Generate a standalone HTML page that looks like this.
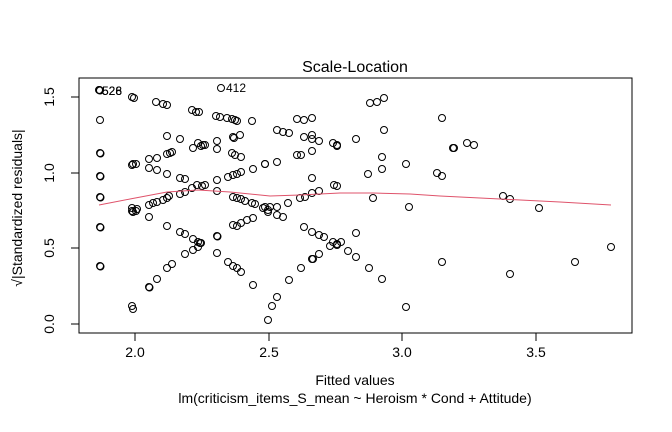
<!DOCTYPE html>
<html><head><meta charset="utf-8"><style>body{margin:0;background:#fff}svg{display:block}</style></head>
<body>
<svg width="672" height="432" viewBox="0 0 672 432" xmlns="http://www.w3.org/2000/svg" font-family="Liberation Sans, Arial, sans-serif">
<rect width="672" height="432" fill="#fff"/>
<rect x="79" y="78" width="553" height="255" fill="none" stroke="#000" stroke-width="1"/>
<g stroke="#000" stroke-width="1">
<line x1="135" y1="333" x2="135" y2="341"/><line x1="269" y1="333" x2="269" y2="341"/><line x1="402" y1="333" x2="402" y2="341"/><line x1="536" y1="333" x2="536" y2="341"/>
<line x1="71" y1="324" x2="79" y2="324"/><line x1="71" y1="248" x2="79" y2="248"/><line x1="71" y1="173" x2="79" y2="173"/><line x1="71" y1="97" x2="79" y2="97"/>
</g>
<g font-size="14" text-anchor="middle" fill="#000">
<text x="135" y="357">2.0</text><text x="269" y="357">2.5</text><text x="402" y="357">3.0</text><text x="536" y="357">3.5</text>
<text transform="translate(54,324) rotate(-90)">0.0</text>
<text transform="translate(54,248) rotate(-90)">0.5</text>
<text transform="translate(54,173) rotate(-90)">1.0</text>
<text transform="translate(54,97) rotate(-90)">1.5</text>
<text x="355" y="385">Fitted values</text>
<text x="355" y="403">lm(criticism_items_S_mean ~ Heroism * Cond + Attitude)</text>
<text transform="translate(22,208) rotate(-90)">√|Standardized residuals|</text>
<text x="355" y="72" font-size="16">Scale-Location</text>
</g>
<g font-size="12" fill="#000">
<text x="102" y="95">526</text><text x="102" y="95">528</text>
<text x="226" y="92">412</text>
</g>
<g fill="none" stroke="#000" stroke-width="1">
<circle cx="99" cy="90" r="3.5"/><circle cx="99.5" cy="90" r="3.5"/><circle cx="100" cy="90.5" r="3.5"/>
<circle cx="221" cy="88" r="3.5"/>
<circle cx="132" cy="97" r="3.5"/><circle cx="134" cy="98" r="3.5"/>
<circle cx="156" cy="102" r="3.5"/><circle cx="163" cy="104" r="3.5"/><circle cx="167" cy="105" r="3.5"/>
<circle cx="192" cy="110" r="3.5"/><circle cx="196" cy="112" r="3.5"/><circle cx="199" cy="112" r="3.5"/>
<circle cx="216" cy="116" r="3.5"/><circle cx="220" cy="117" r="3.5"/><circle cx="227" cy="118" r="3.5"/><circle cx="232" cy="119" r="3.5"/><circle cx="235" cy="120" r="3.5"/><circle cx="237" cy="121" r="3.5"/>
<circle cx="252" cy="121" r="3.5"/><circle cx="100" cy="120" r="3.5"/>
<circle cx="167" cy="136" r="3.5"/><circle cx="180" cy="139" r="3.5"/>
<circle cx="217" cy="141" r="3.5"/><circle cx="198" cy="143" r="3.5"/><circle cx="203" cy="145" r="3.5"/><circle cx="193" cy="148" r="3.5"/><circle cx="201" cy="146" r="3.5"/><circle cx="205" cy="145" r="3.5"/>
<circle cx="217" cy="149" r="3.5"/><circle cx="233" cy="137" r="3.5"/><circle cx="240" cy="135" r="3.5"/><circle cx="234" cy="138" r="3.5"/>
<circle cx="100" cy="153" r="3.5"/><circle cx="100.5" cy="153.5" r="3.5"/>
<circle cx="167" cy="154" r="3.5"/><circle cx="170" cy="153" r="3.5"/><circle cx="172" cy="152" r="3.5"/>
<circle cx="157" cy="158" r="3.5"/><circle cx="149" cy="159" r="3.5"/><circle cx="149" cy="168" r="3.5"/><circle cx="157" cy="170" r="3.5"/>
<circle cx="132" cy="165" r="3.5"/><circle cx="133" cy="164" r="3.5"/><circle cx="136" cy="164" r="3.5"/>
<circle cx="232" cy="153" r="3.5"/><circle cx="235" cy="155" r="3.5"/><circle cx="241" cy="157" r="3.5"/>
<circle cx="100" cy="176" r="3.5"/><circle cx="100.5" cy="176.5" r="3.5"/>
<circle cx="167" cy="174" r="3.5"/><circle cx="180" cy="178" r="3.5"/><circle cx="185" cy="179" r="3.5"/>
<circle cx="217" cy="180" r="3.5"/><circle cx="197" cy="185" r="3.5"/><circle cx="202" cy="186" r="3.5"/><circle cx="205" cy="185" r="3.5"/>
<circle cx="228" cy="177" r="3.5"/><circle cx="233" cy="175" r="3.5"/><circle cx="237" cy="174" r="3.5"/><circle cx="241" cy="172" r="3.5"/><circle cx="253" cy="169" r="3.5"/><circle cx="265" cy="164" r="3.5"/>
<circle cx="100" cy="197" r="3.5"/><circle cx="100.5" cy="197.5" r="3.5"/>
<circle cx="217" cy="191" r="3.5"/><circle cx="180" cy="194" r="3.5"/><circle cx="185" cy="192" r="3.5"/><circle cx="192" cy="188" r="3.5"/>
<circle cx="167" cy="198" r="3.5"/><circle cx="169" cy="196" r="3.5"/><circle cx="163" cy="200" r="3.5"/>
<circle cx="149" cy="205" r="3.5"/><circle cx="153" cy="203" r="3.5"/><circle cx="157" cy="202" r="3.5"/>
<circle cx="132" cy="208" r="3.5"/><circle cx="137" cy="209" r="3.5"/>
<circle cx="233" cy="197" r="3.5"/><circle cx="237" cy="198" r="3.5"/><circle cx="241" cy="199" r="3.5"/><circle cx="245" cy="201" r="3.5"/><circle cx="252" cy="203" r="3.5"/><circle cx="255" cy="204" r="3.5"/><circle cx="265" cy="207" r="3.5"/>
<circle cx="132" cy="211" r="3.5"/><circle cx="133" cy="212" r="3.5"/><circle cx="136" cy="211" r="3.5"/>
<circle cx="149" cy="217" r="3.5"/><circle cx="100" cy="227" r="3.5"/><circle cx="100.5" cy="227.5" r="3.5"/><circle cx="167" cy="226" r="3.5"/>
<circle cx="180" cy="232" r="3.5"/><circle cx="185" cy="234" r="3.5"/><circle cx="193" cy="239" r="3.5"/><circle cx="198" cy="242" r="3.5"/><circle cx="200" cy="243" r="3.5"/><circle cx="201" cy="243" r="3.5"/>
<circle cx="217" cy="236" r="3.5"/><circle cx="217.5" cy="236.5" r="3.5"/><circle cx="217" cy="253" r="3.5"/>
<circle cx="185" cy="254" r="3.5"/><circle cx="193" cy="250" r="3.5"/><circle cx="198" cy="247" r="3.5"/>
<circle cx="172" cy="264" r="3.5"/><circle cx="167" cy="268" r="3.5"/><circle cx="157" cy="279" r="3.5"/><circle cx="149" cy="287" r="3.5"/><circle cx="149.5" cy="287.5" r="3.5"/>
<circle cx="100" cy="266" r="3.5"/><circle cx="100.5" cy="266.5" r="3.5"/>
<circle cx="132" cy="306" r="3.5"/><circle cx="133" cy="309" r="3.5"/>
<circle cx="233" cy="225" r="3.5"/><circle cx="237" cy="226" r="3.5"/><circle cx="241" cy="223" r="3.5"/><circle cx="247" cy="220" r="3.5"/><circle cx="253" cy="218" r="3.5"/><circle cx="263" cy="208" r="3.5"/><circle cx="268" cy="210" r="3.5"/>
<circle cx="228" cy="262" r="3.5"/><circle cx="233" cy="266" r="3.5"/><circle cx="237" cy="268" r="3.5"/><circle cx="241" cy="272" r="3.5"/><circle cx="253" cy="285" r="3.5"/>
<circle cx="370" cy="103" r="3.5"/><circle cx="377" cy="102" r="3.5"/><circle cx="384" cy="98" r="3.5"/>
<circle cx="442" cy="118" r="3.5"/><circle cx="297" cy="119" r="3.5"/><circle cx="304" cy="120" r="3.5"/><circle cx="312" cy="118" r="3.5"/>
<circle cx="277" cy="130" r="3.5"/><circle cx="283" cy="132" r="3.5"/><circle cx="289" cy="133" r="3.5"/><circle cx="384" cy="130" r="3.5"/>
<circle cx="304" cy="137" r="3.5"/><circle cx="312" cy="135" r="3.5"/><circle cx="312" cy="139" r="3.5"/><circle cx="319" cy="141" r="3.5"/>
<circle cx="333" cy="143" r="3.5"/><circle cx="337" cy="145" r="3.5"/><circle cx="337" cy="146" r="3.5"/><circle cx="356" cy="139" r="3.5"/><circle cx="453" cy="148" r="3.5"/>
<circle cx="312" cy="151" r="3.5"/><circle cx="297" cy="155" r="3.5"/><circle cx="301" cy="155" r="3.5"/>
<circle cx="265" cy="164" r="3.5"/><circle cx="277" cy="162" r="3.5"/>
<circle cx="382" cy="157" r="3.5"/><circle cx="382" cy="169" r="3.5"/><circle cx="406" cy="164" r="3.5"/><circle cx="368" cy="174" r="3.5"/>
<circle cx="437" cy="173" r="3.5"/><circle cx="442" cy="176" r="3.5"/><circle cx="312" cy="178" r="3.5"/>
<circle cx="334" cy="185" r="3.5"/><circle cx="337" cy="186" r="3.5"/>
<circle cx="319" cy="191" r="3.5"/><circle cx="312" cy="193" r="3.5"/><circle cx="305" cy="197" r="3.5"/><circle cx="300" cy="198" r="3.5"/>
<circle cx="288" cy="203" r="3.5"/><circle cx="373" cy="198" r="3.5"/><circle cx="409" cy="207" r="3.5"/>
<circle cx="277" cy="207" r="3.5"/><circle cx="270" cy="207" r="3.5"/>
<circle cx="268" cy="212" r="3.5"/><circle cx="277" cy="215" r="3.5"/><circle cx="283" cy="217" r="3.5"/>
<circle cx="304" cy="227" r="3.5"/><circle cx="312" cy="232" r="3.5"/><circle cx="319" cy="235" r="3.5"/><circle cx="324" cy="237" r="3.5"/><circle cx="333" cy="242" r="3.5"/><circle cx="341" cy="242" r="3.5"/><circle cx="337" cy="244" r="3.5"/><circle cx="337" cy="245" r="3.5"/><circle cx="330" cy="246" r="3.5"/>
<circle cx="356" cy="233" r="3.5"/><circle cx="348" cy="251" r="3.5"/><circle cx="356" cy="257" r="3.5"/><circle cx="369" cy="268" r="3.5"/><circle cx="382" cy="279" r="3.5"/>
<circle cx="319" cy="254" r="3.5"/><circle cx="312" cy="259" r="3.5"/><circle cx="313" cy="259" r="3.5"/><circle cx="301" cy="268" r="3.5"/><circle cx="289" cy="280" r="3.5"/>
<circle cx="277" cy="297" r="3.5"/><circle cx="272" cy="306" r="3.5"/><circle cx="268" cy="320" r="3.5"/>
<circle cx="442" cy="262" r="3.5"/><circle cx="406" cy="307" r="3.5"/>
<circle cx="454" cy="148" r="3.5"/><circle cx="467" cy="143" r="3.5"/><circle cx="474" cy="145" r="3.5"/>
<circle cx="503" cy="196" r="3.5"/><circle cx="510" cy="199" r="3.5"/><circle cx="539" cy="208" r="3.5"/>
<circle cx="575" cy="262" r="3.5"/><circle cx="510" cy="274" r="3.5"/><circle cx="611" cy="247" r="3.5"/>
</g>
<polyline fill="none" stroke="#DF536B" stroke-width="1" points="99,205 130,199 167,192 198,190 230,192 270,196 300,195 340,193 373,193 410,194 440,196 500,199 560,202 611,205"/>
</svg>
</body></html>
